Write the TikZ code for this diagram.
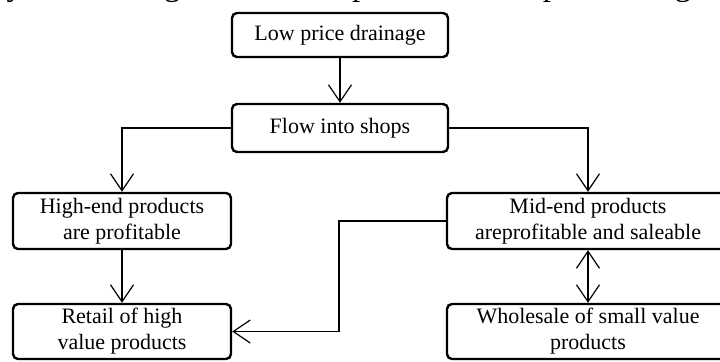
\documentclass[tikz,border=0pt]{standalone}
\usepackage{fontspec}
\setmainfont{Liberation Serif}
\usetikzlibrary{arrows.meta}
\begin{document}
\begin{tikzpicture}[x=0.5pt,y=-0.5pt,>={Straight Barb[length=8.5pt,width=11.5pt]},
    caja/.style={draw,line width=1.2pt,rounded corners=2.5pt,align=center,inner sep=0pt,
      minimum width=109pt,font=\fontsize{11}{13}\selectfont},
    linea/.style={line width=0.6pt}]
            \useasboundingbox (0,0) rectangle (720,361);
            \clip (0,0) rectangle (720,361);
            \node[anchor=base west,inner sep=0pt,font=\fontsize{16.5}{20}\selectfont] (texto) at (-3,-5)
              {ly sold through retail. The product mode positioning is}; % texto de arriba
            \node[caja,minimum height=22pt,minimum width=108pt] (low) at (340,35) {Low price drainage};
            \node[caja,minimum height=24pt,minimum width=108pt] (flow) at (340,128) {Flow into shops};
            \node[caja,minimum height=28pt] (high) at (122,221) {High-end products\\are profitable};
            \node[caja,minimum height=27.5pt] (retail) at (122,331.5) {Retail of high\\value products};
            \node[caja,minimum height=28pt,minimum width=141pt] (mid) at (588,221) {Mid-end products\\areprofitable and saleable};
            \node[caja,minimum height=27.5pt,minimum width=141pt] (whole) at (588,331.5) {Wholesale of small value\\products};
            \draw[linea,->] (low) -- (flow);
            \draw[linea,->] (flow.west) -| (high.north); % rama izquierda
            \draw[linea,->] (flow.east) -| (mid.north); % rama derecha
            \draw[linea,->] (high) -- (retail);
            \coordinate (codo) at (339,221);
            \draw[linea,->] (mid.west) -- (codo) |- (retail.east);
            \draw[linea,<->] (mid) -- (whole);
            \end{tikzpicture}
\end{document}
